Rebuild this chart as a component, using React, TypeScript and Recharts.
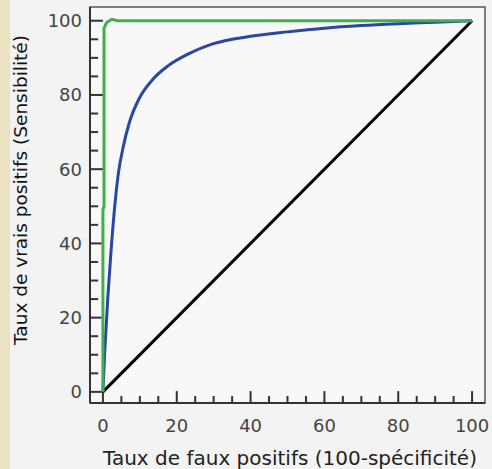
import React from 'react'
import { ComposedChart, Line, XAxis, YAxis, ReferenceArea, ReferenceLine, Label } from 'recharts'

const tickValues = [0, 5, 10, 15, 20, 25, 30, 35, 40, 45, 50, 55, 60, 65, 70, 75, 80, 85, 90, 95, 100]

// courbe ROC bleue
const blueFpr = [0, 0.5, 1.3, 2.2, 3.4, 4.2, 5.5, 7.2, 9.8, 13.6, 17.7, 23, 29.5, 40, 50, 60, 70, 80, 90, 100]
const blueTpr = [0, 11, 25, 38, 52, 59, 66, 72.7, 79, 84.3, 87.9, 91, 93.7, 95.8, 97, 98, 98.7, 99.2, 99.6, 100]

// courbe verte (test quasi parfait)
const greenFpr = [0, 0, 0.3, 0.3, 1, 2.4, 4, 100]
const greenTpr = [0, 49, 50, 98, 99.5, 100.4, 100, 100]

// diagonale
const diagFpr = [0, 100]
const diagTpr = [0, 100]

const X_DOMAIN: [number, number] = [-3.5, 103.5]
const Y_DOMAIN: [number, number] = [-3, 103.7]

const toPoints = (xs: number[], ys: number[]) => xs.map((x, i) => ({ x, y: ys[i] }))

const blueData = toPoints(blueFpr, blueTpr)
const greenData = toPoints(greenFpr, greenTpr)
const diagData = toPoints(diagFpr, diagTpr)

const FONT = '"DejaVu Sans", sans-serif'
const TICK_COLOR = '#444'
const isMajor = (v: number) => v % 20 === 0

function XTick(props: any) {
  const { x, y, payload } = props
  const v = payload.value as number
  if (!isMajor(v)) return <g />
  return (
    <text x={x} y={y + 22} textAnchor="middle" dominantBaseline="central" fontSize={18} fontFamily={FONT} fill={TICK_COLOR}>
      {v}
    </text>
  )
}

function YTick(props: any) {
  const { x, y, payload } = props
  const v = payload.value as number
  if (!isMajor(v)) return <g />
  return (
    <text x={x - 8} y={y} textAnchor="end" dominantBaseline="central" fontSize={18} fontFamily={FONT} fill={TICK_COLOR}>
      {v}
    </text>
  )
}

export default function App() {
  return (
    <div style={{ position: 'absolute', left: 0, top: 0, width: 492, height: 469, background: '#f3f3f3' }}>
      <div style={{ position: 'absolute', left: 0, top: 0, width: 10, height: 469, background: '#ece2c2' }} />
      <div style={{ position: 'absolute', left: 90, top: 7, width: 395, height: 396, background: '#f8f8f8' }} />
      <ComposedChart width={492} height={469} margin={{ top: 7, right: 7, bottom: 0, left: 0 }} style={{ position: 'absolute', left: 0, top: 0 }}>
        <XAxis
          dataKey="x"
          type="number"
          domain={X_DOMAIN}
          ticks={tickValues}
          interval={0}
          allowDataOverflow
          height={66}
          tickSize={0}
          tickMargin={0}
          tickLine={false}
          axisLine={{ stroke: '#333', strokeWidth: 2 }}
          tick={<XTick />}
        >
          <Label
            content={() => (
              <text x={290} y={458} textAnchor="middle" dominantBaseline="central" fontSize={20} fontFamily={FONT} fill="#222">
                Taux de faux positifs (100-spécificité)
              </text>
            )}
          />
        </XAxis>
        <YAxis
          dataKey="y"
          type="number"
          domain={Y_DOMAIN}
          ticks={tickValues}
          interval={0}
          allowDataOverflow
          width={90}
          tickSize={0}
          tickMargin={0}
          tickLine={false}
          axisLine={{ stroke: '#333', strokeWidth: 2 }}
          tick={<YTick />}
        >
          <Label
            content={() => (
              <text x={20} y={190} transform="rotate(-90 20 190)" textAnchor="middle" dominantBaseline="central" fontSize={18.5} fontFamily={FONT} fill="#111">
                Taux de vrais positifs (Sensibilité)
              </text>
            )}
          />
        </YAxis>
        <ReferenceArea x1={X_DOMAIN[0]} x2={X_DOMAIN[1]} y1={Y_DOMAIN[0]} y2={Y_DOMAIN[1]} fill="none" stroke="#555" strokeWidth={1.5} />
        {tickValues.map(v => (
          <ReferenceLine
            key={`xt-${v}`}
            segment={[{ x: v, y: Y_DOMAIN[0] }, { x: v, y: Y_DOMAIN[0] + (isMajor(v) ? 3.2 : 1.9) }]}
            stroke="#333"
            strokeWidth={2}
            ifOverflow="visible"
          />
        ))}
        {tickValues.map(v => (
          <ReferenceLine
            key={`yt-${v}`}
            segment={[{ x: X_DOMAIN[0], y: v }, { x: X_DOMAIN[0] + (isMajor(v) ? 3.5 : 2.2), y: v }]}
            stroke="#333"
            strokeWidth={2}
            ifOverflow="visible"
          />
        ))}
        <Line data={diagData} dataKey="y" type="linear" stroke="#000" strokeWidth={3} dot={false} isAnimationActive={false} />
        <Line data={blueData} dataKey="y" type="monotone" stroke="#2b46a3" strokeWidth={3} dot={false} isAnimationActive={false} />
        <Line data={greenData} dataKey="y" type="linear" stroke="#3db04c" strokeWidth={3} dot={false} isAnimationActive={false} />
      </ComposedChart>
    </div>
  )
}
